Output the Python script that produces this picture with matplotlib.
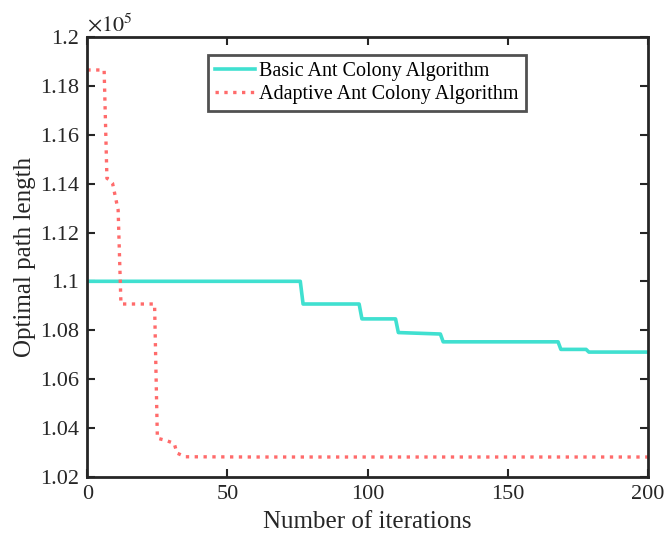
import matplotlib
matplotlib.use("Agg")
import matplotlib.pyplot as plt
from matplotlib.ticker import FuncFormatter, MultipleLocator

# Data (vertices)
basic_x = [0, 76, 77, 97, 98, 110, 111, 126, 127, 168, 169, 178, 179, 200]
basic_y = [110000, 110000, 109070, 109070, 108460, 108460, 107900, 107840,
           107520, 107520, 107210, 107210, 107100, 107100]

adapt_x = [0, 6, 7, 8, 9, 11, 12, 24, 25, 28, 31, 32, 35, 60, 200]
adapt_y = [118660, 118660, 114220, 114150, 114020, 112920, 109070, 109070,
           103570, 103480, 103360, 102960, 102810, 102800, 102800]

labels = ["Basic Ant Colony Algorithm", "Adaptive Ant Colony Algorithm"]
xlabel = "Number of iterations"
ylabel = "Optimal path length"

plt.rcParams['font.family'] = ['Liberation Serif', 'DejaVu Serif']
plt.rcParams['mathtext.fontset'] = 'stix'

fig = plt.figure(figsize=(6.64, 5.42), dpi=100)
ax = fig.add_axes([0.1315, 0.1208, 0.844, 0.8104])

ax.plot(basic_x, basic_y, color='#40E0D0', lw=2.6, label=labels[0])
ax.plot(adapt_x, adapt_y, color='#FF6B6B', lw=2.4, ls=':', label=labels[1])

ax.set_xlim(0, 200)
ax.set_ylim(102000, 120000)
ax.xaxis.set_major_locator(MultipleLocator(50))
ax.yaxis.set_major_locator(MultipleLocator(2000))
ax.yaxis.set_major_formatter(FuncFormatter(lambda v, p: '%g' % round(v / 1e5, 4)))

ax.tick_params(direction='in', top=True, right=True, labelsize=16,
               length=6, width=1.5, colors='#262626', labelcolor='#262626', pad=6)
for s in ax.spines.values():
    s.set_linewidth(2)
    s.set_color('#262626')

ax.set_xlabel(xlabel, fontsize=18, color='#262626', labelpad=5)
ax.set_ylabel(ylabel, fontsize=18, color='#262626', labelpad=3)
ax.text(0.0, 1.003, r'$\times 10^5$', transform=ax.transAxes, fontsize=16,
        color='#262626', ha='left', va='bottom')

leg = ax.legend(loc='upper left', bbox_to_anchor=(0.2154, 0.9597), fontsize=14.5,
                frameon=True, fancybox=False, edgecolor='#262626',
                handlelength=2.0, handletextpad=0.2, borderpad=0.35,
                labelspacing=0.2, borderaxespad=0)
leg.get_frame().set_linewidth(2)

fig.savefig('out.png', dpi=100)
